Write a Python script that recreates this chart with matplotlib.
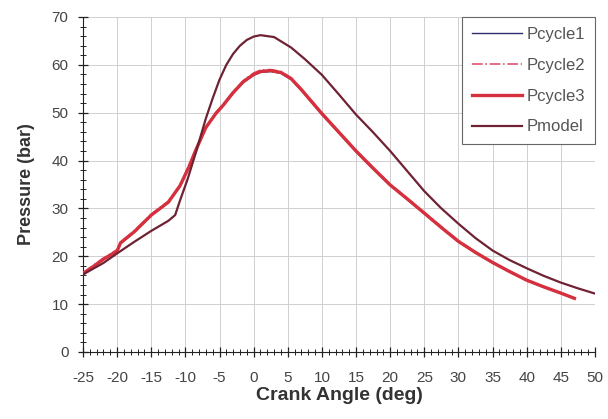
import numpy as np
import matplotlib.pyplot as plt
from matplotlib.ticker import MultipleLocator

plt.rcParams['font.family'] = ['Liberation Sans', 'DejaVu Sans']
plt.rcParams['axes.unicode_minus'] = False

# crank angle (deg) and pressures (bar)
angle_cyc = [-25, -22, -20, -19.5, -17.5, -15, -12.5, -10.8, -9.5, -8.5, -7, -5.5,
             -4.5, -3, -1.5, 0, 1, 2.5, 4, 5.5, 7, 10, 12.5, 15, 17.5, 20, 22.5,
             25, 27.5, 30, 32.5, 35, 37.5, 40, 42.5, 45, 47]
p_cycle1 = [16.4, 19.3, 21.2, 22.6, 25.0, 28.5, 31.2, 34.6, 38.5, 42.0, 46.8, 49.8,
            51.3, 54.0, 56.3, 57.8, 58.4, 58.6, 58.2, 56.9, 54.6, 49.6, 45.7, 41.8,
            38.2, 34.8, 31.8, 28.9, 25.9, 23.0, 20.7, 18.6, 16.7, 14.9, 13.5, 12.2, 11.2]
p_cycle2 = [16.6, 19.6, 21.4, 23.0, 25.3, 28.8, 31.5, 34.9, 38.8, 42.3, 47.0, 50.1,
            51.7, 54.4, 56.7, 58.3, 58.9, 59.0, 58.6, 57.3, 55.0, 50.0, 46.0, 42.1,
            38.5, 35.1, 32.1, 29.2, 26.2, 23.3, 20.9, 18.8, 16.9, 15.1, 13.7, 12.4, 11.3]
p_cycle3 = [16.3, 19.4, 21.1, 22.8, 25.1, 28.6, 31.3, 34.7, 38.6, 42.1, 46.9, 49.9,
            51.5, 54.2, 56.5, 58.0, 58.6, 58.8, 58.4, 57.1, 54.8, 49.8, 45.9, 42.0,
            38.4, 34.9, 32.0, 29.0, 26.0, 23.1, 20.8, 18.7, 16.8, 15.0, 13.6, 12.3, 11.2]

angle_mod = [-25, -22, -20, -17.5, -15, -12.5, -11.5, -10.8, -9.7, -8.5, -7, -6,
             -5, -4, -3, -2, -1, 0, 1, 3, 5.5, 7.5, 10, 12.5, 15, 17.5, 20, 22.5,
             25, 27.5, 30, 32.5, 35, 37.5, 40, 42.5, 45, 47.5, 50]
p_model = [16.2, 18.6, 20.6, 23.0, 25.3, 27.4, 28.6, 31.6, 36.0, 41.5, 48.8, 53.0,
           56.9, 60.0, 62.3, 64.0, 65.2, 65.9, 66.2, 65.8, 63.6, 61.2, 57.9, 53.8,
           49.6, 45.9, 42.0, 37.8, 33.6, 30.0, 26.8, 23.8, 21.2, 19.2, 17.5, 15.9,
           14.5, 13.3, 12.2]

fig = plt.figure(figsize=(6.08, 4.19), dpi=100)
ax = fig.add_axes([0.1365, 0.16, 0.842, 0.7995])

ax.plot(angle_cyc, p_cycle1, color='#2e2a6e', lw=1.0, label='Pcycle1', zorder=3)
ax.plot(angle_cyc, p_cycle2, color='#e4506e', lw=1.2, ls='-.', label='Pcycle2', zorder=4)
ax.plot(angle_cyc, p_cycle3, color='#d6303e', lw=2.4, label='Pcycle3', zorder=5)
ax.plot(angle_mod, p_model, color='#6e2233', lw=1.6, label='Pmodel', zorder=6)

ax.set_xlim(-25, 50)
ax.set_ylim(0, 70)
ax.xaxis.set_major_locator(MultipleLocator(5))
ax.xaxis.set_minor_locator(MultipleLocator(1))
ax.yaxis.set_major_locator(MultipleLocator(10))
ax.yaxis.set_minor_locator(MultipleLocator(2))
ax.tick_params(which='major', direction='inout', length=7, width=0.9,
               labelsize=11, labelcolor='#444444', color='#222222')
ax.tick_params(axis='x', which='major', pad=10)
ax.tick_params(axis='y', which='major', pad=7)
ax.tick_params(which='minor', direction='inout', length=4, width=0.7, color='#222222')
ax.grid(True, which='major', color='#cfcfcf', lw=0.7)

for s in ['top', 'right']:
    ax.spines[s].set_visible(False)
ax.spines['left'].set_color('#222222')
ax.spines['bottom'].set_color('#222222')

ax.set_xlabel('Crank Angle (deg)', fontsize=14, fontweight='bold', color='#333333', labelpad=2)
ax.set_ylabel('Pressure (bar)', fontsize=13, fontweight='bold', color='#333333', labelpad=12)

leg = ax.legend(loc='upper right', fontsize=12, labelspacing=0.95, handlelength=3.0,
                handletextpad=0.25, borderaxespad=0.0, borderpad=0.6, fancybox=False,
                framealpha=1, edgecolor='#666666', labelcolor='#555555')
leg.get_frame().set_linewidth(0.8)

fig.savefig('out.png', dpi=100)
